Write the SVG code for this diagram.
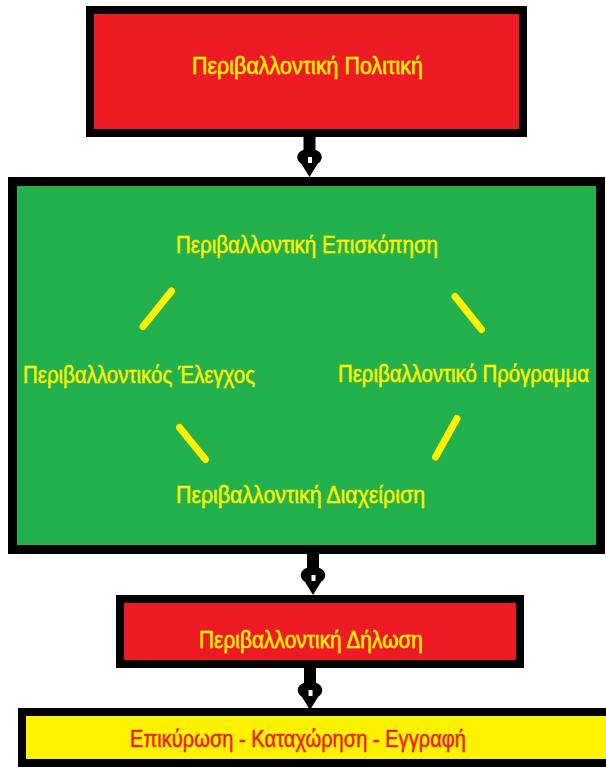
<svg xmlns="http://www.w3.org/2000/svg" width="606" height="767" viewBox="0 0 606 767">
<style>
.box{stroke:#000;stroke-width:8}
.red{fill:#ed1c24}
.green{fill:#22b14c}
.yellow{fill:#fff200}
.lbl{font-family:"Liberation Sans Narrow","Liberation Sans",Arial,sans-serif;font-size:23px;text-anchor:start;stroke-width:0.5}
.ty{fill:#fff200;stroke:#fff200}
.tr{fill:#ed1c24;stroke:#ed1c24}
.link{stroke:#fff200;stroke-width:7;stroke-linecap:round}
</style>
<defs>
<g id="nib">
<rect x="-6" y="-17" width="12" height="18" fill="#000"/>
<path d="M -6,0 C -11,1 -13,6 -12,9 C -11,12 -9,13 -8,14 L 0,27 L 8,14 C 9,13 11,12 12,9 C 13,6 11,1 6,0 Z" fill="#000"/>
<rect x="-1.5" y="7" width="4" height="6" fill="#fff"/>
</g>
</defs>
<rect width="606" height="767" fill="#fff"/>
<g id="connectors">
<use href="#nib" transform="translate(309.5,150)"/>
<use href="#nib" transform="translate(313,568)"/>
<use href="#nib" transform="translate(310,683)"/>
</g>
<g id="policy">
<rect class="box red" x="90" y="10" width="433" height="123"/>
<text class="lbl ty" x="192" y="74" textLength="231" lengthAdjust="spacingAndGlyphs">Περιβαλλοντική  Πολιτική</text>
</g>
<g id="cycle">
<rect class="box green" x="12.5" y="181.5" width="588" height="368" style="stroke-width:9"/>
</g>
<g id="cycle-links">
<line class="link" x1="171.5" y1="291" x2="143" y2="326.5"/>
<line class="link" x1="455" y1="296.5" x2="481.5" y2="329.5"/>
<line class="link" x1="179.5" y1="427.5" x2="205.5" y2="459.5"/>
<line class="link" x1="457" y1="418.5" x2="435.5" y2="457"/>
</g>
<g id="review">
<text class="lbl ty" x="176" y="253" textLength="262" lengthAdjust="spacingAndGlyphs">Περιβαλλοντική Επισκόπηση</text>
</g>
<g id="audit">
<text class="lbl ty" x="23" y="383" textLength="232" lengthAdjust="spacingAndGlyphs">Περιβαλλοντικός Έλεγχος</text>
</g>
<g id="programme">
<text class="lbl ty" x="0" y="0" transform="translate(338,382) scale(1,1.15)" style="font-size:20px" textLength="251" lengthAdjust="spacingAndGlyphs">Περιβαλλοντικό Πρόγραμμα</text>
</g>
<g id="management">
<text class="lbl ty" x="176" y="503" textLength="249" lengthAdjust="spacingAndGlyphs">Περιβαλλοντική Διαχείριση</text>
</g>
<g id="statement">
<rect class="box red" x="120" y="599" width="400" height="65"/>
<text class="lbl ty" x="199" y="648" textLength="224" lengthAdjust="spacingAndGlyphs">Περιβαλλοντική Δήλωση</text>
</g>
<g id="validation">
<rect class="box yellow" x="22" y="712" width="590" height="51"/>
<text class="lbl tr" x="130" y="747" textLength="336" lengthAdjust="spacingAndGlyphs">Επικύρωση - Καταχώρηση - Εγγραφή</text>
</g>
</svg>
